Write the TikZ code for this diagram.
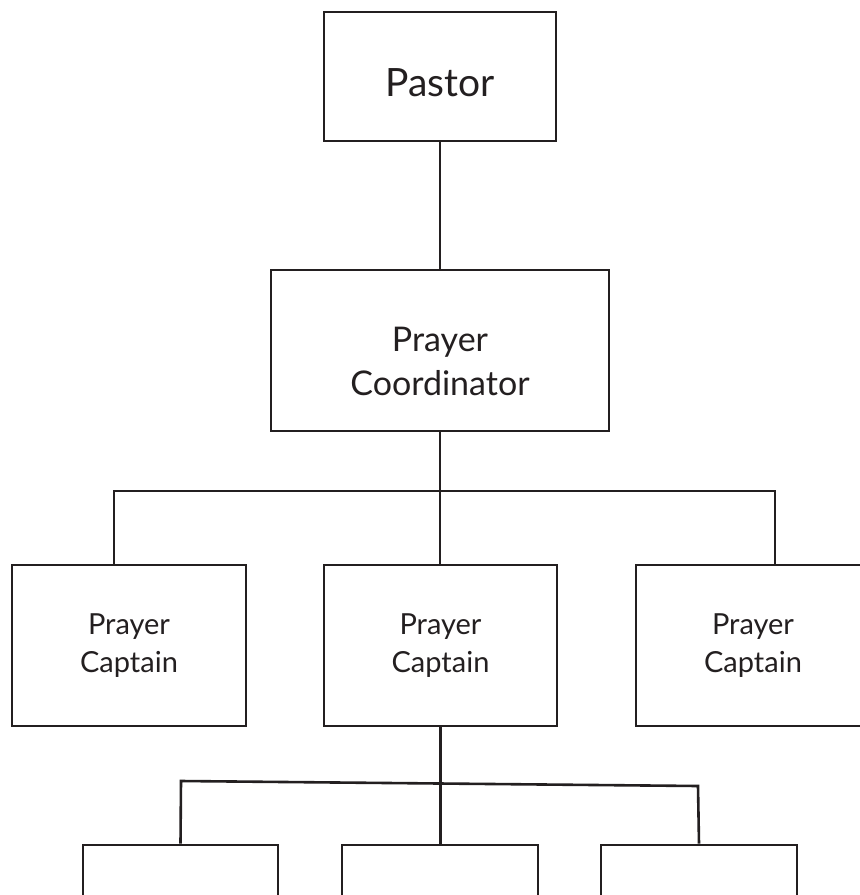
\documentclass[tikz,border=0pt]{standalone}
\usepackage{fontspec}
\setmainfont{Lato}
\definecolor{ink}{RGB}{35,31,32}

\begin{document}
\begin{tikzpicture}[x=1pt, y=-1pt,
                    every node/.style = {text=ink, align=center},
                    role/.style = {draw=ink, line width=2.6pt, rectangle, inner sep=0pt},
                    link/.style = {draw=ink, line width=2.6pt},
                    bigtext/.style = {font=\fontsize{39}{44}\selectfont},
                    midtext/.style = {font=\fontsize{34}{44}\selectfont},
                    smalltext/.style = {font=\fontsize{29}{38}\selectfont}]
            \useasboundingbox (0,0) rectangle (860,895);

            % pastor and coordinator
            \node (pastor) [role, bigtext, minimum width=232pt, minimum height=129pt] at (440,76.5) {\rule{0pt}{40pt}Pastor};
            \node (coord) [role, midtext, minimum width=338pt, minimum height=161pt] at (440,350.5) {\rule{0pt}{46pt}Prayer\\Coordinator};

            % captains
            \node (capL) [role, smalltext, minimum width=234pt, minimum height=161pt] at (129,645.5) {Prayer\\Captain};
            \node (capM) [role, smalltext, minimum width=233pt, minimum height=161pt] at (440.5,645.5) {Prayer\\Captain};
            \node (capR) [role, smalltext, minimum width=234pt, minimum height=161pt] at (753,645.5) {Prayer\\Captain};

            % bottom row, cut off by the page
            \node (subL) [role, minimum width=195pt, minimum height=120pt] at (180.5,905) {};
            \node (subM) [role, minimum width=196pt, minimum height=120pt] at (440,905) {};
            \node (subR) [role, minimum width=196pt, minimum height=120pt] at (699,905) {};

            \coordinate (dropL)  at (114,491);
            \coordinate (dropR)  at (775,491);
            \coordinate (dropBL) at (181,781);
            \coordinate (dropBR) at (698,786);

            \draw [link] (pastor) -- (coord);
            \draw [link] (coord.south) -- (coord.south |- capM.north);
            \draw [link] (dropL |- capL.north) -- (dropL) -- (dropR) -- (dropR |- capR.north);

            \draw [link] (capM.south) -- (capM.south |- subM.north);
            \draw [link] (subL.north) -- (dropBL) -- (dropBR) -- (subR.north);
\end{tikzpicture}
\end{document}
